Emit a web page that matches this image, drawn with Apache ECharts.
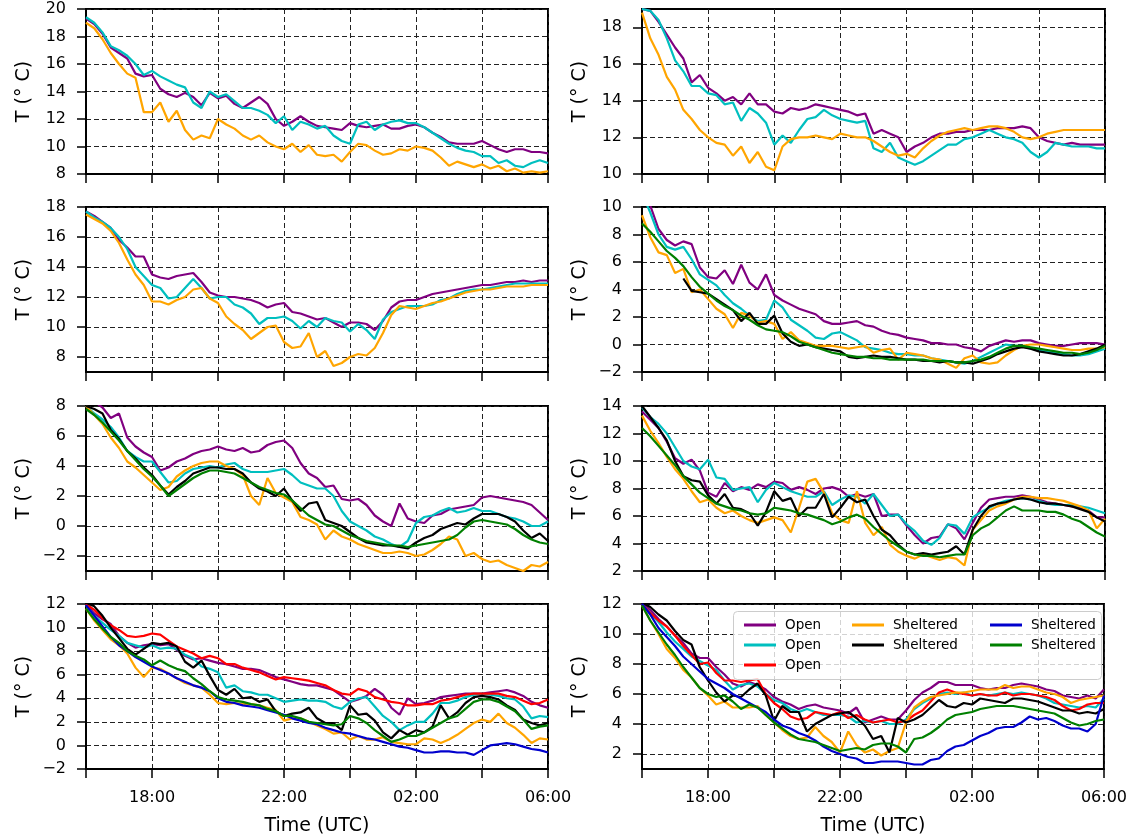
<!DOCTYPE html>
<html>
<head>
<meta charset="utf-8">
<title>Night-time air temperature, open and sheltered sites</title>
<script src="https://cdn.jsdelivr.net/npm/echarts@6/dist/echarts.min.js"></script>
<style>
  html, body { margin: 0; padding: 0; background: #fff; }
  #chart { width: 1130px; height: 838px; }
</style>
</head>
<body>
<div id="chart"></div>
<script>
// sample times, hours after midnight of the first day (26 = 02:00, 30 = 06:00)
const hours = [16, 16.25, 16.5, 16.75, 17, 17.25, 17.5, 17.75, 18, 18.25, 18.5, 18.75,
  19, 19.25, 19.5, 19.75, 20, 20.25, 20.5, 20.75, 21, 21.25, 21.5, 21.75,
  22, 22.25, 22.5, 22.75, 23, 23.25, 23.5, 23.75, 24, 24.25, 24.5, 24.75,
  25, 25.25, 25.5, 25.75, 26, 26.25, 26.5, 26.75, 27, 27.25, 27.5, 27.75,
  28, 28.25, 28.5, 28.75, 29, 29.25, 29.5, 29.75, 30];

const xTickHours = [18, 22, 26, 30];
const xTickText = ['18:00', '22:00', '02:00', '06:00'];

// y tick values per panel
const p1Ticks = [8, 10, 12, 14, 16, 18, 20];
const p2Ticks = [10, 12, 14, 16, 18];
const p3Ticks = [8, 10, 12, 14, 16, 18];
const p4Ticks = [-2, 0, 2, 4, 6, 8, 10];
const p5Ticks = [-2, 0, 2, 4, 6, 8];
const p6Ticks = [2, 4, 6, 8, 10, 12, 14];
const p7Ticks = [-2, 0, 2, 4, 6, 8, 10, 12];
const p8Ticks = [2, 4, 6, 8, 10, 12];

// panel 1 (top left)
const p1Purple = [19.3,18.9,18.2,17.2, 16.8,16.4,15.3,15.1, 15.2,14.2,13.8,13.6, 13.9,13.6,13.0,13.9, 13.5,13.7,13.1,12.8, 13.2,13.6,13.1,12.0, 11.5,11.8,12.2,11.8, 11.5,11.4,11.3,11.2, 11.7,11.5,11.4,11.5, 11.6,11.3,11.3,11.5, 11.6,11.4,11.0,10.7, 10.3,10.2,10.2,10.2, 10.4,10.1,9.8,9.6, 9.8,9.8,9.6,9.6, 9.5];
const p1Cyan = [19.4,19.0,18.3,17.3, 17.0,16.6,16.0,15.2, 15.5,15.1,14.8,14.5, 14.3,13.2,12.8,14.0, 13.6,13.8,13.3,12.8, 12.8,12.6,12.3,11.7, 12.2,11.2,11.8,11.6, 11.3,11.5,10.8,10.4, 10.2,11.6,11.8,11.2, 11.6,11.8,11.9,11.7, 11.7,11.4,11.0,10.6, 10.2,9.9,9.7,9.6, 9.3,9.3,8.8,9.0, 8.6,8.5,8.8,9.0, 8.8];
const p1Orange = [19.0,18.6,17.8,16.8, 16.0,15.3,15.0,12.5, 12.5,13.2,11.8,12.6, 11.2,10.5,10.8,10.6, 12.0,11.6,11.3,10.8, 10.5,10.8,10.3,10.0, 9.8,10.2,9.6,10.1, 9.4,9.3,9.4,8.9, 9.6,10.2,10.1,9.7, 9.4,9.5,9.8,9.7, 10.0,9.9,9.7,9.2, 8.6,8.9,8.7,8.5, 8.7,8.4,8.6,8.2, 8.4,8.1,8.2,8.1, 8.2];

// panel 2 (top right)
const p2Purple = [19.0,18.9,18.3,17.6, 16.9,16.3,15.0,15.4, 14.7,14.4,14.0,14.2, 13.8,14.4,13.8,13.8, 13.4,13.3,13.6,13.5, 13.6,13.8,13.7,13.6, 13.5,13.4,13.2,13.3, 12.2,12.4,12.2,12.0, 11.2,11.5,11.7,12.0, 12.2,12.2,12.3,12.3, 12.4,12.4,12.4,12.5, 12.5,12.5,12.6,12.5, 12.0,11.8,11.7,11.6, 11.7,11.6,11.6,11.6, 11.6];
const p2Cyan = [19.0,18.9,18.4,17.4, 16.2,15.6,14.8,14.8, 14.4,14.3,13.8,13.9, 12.9,13.6,13.3,12.8, 11.6,12.1,11.7,12.4, 13.0,13.1,13.5,13.2, 13.0,12.9,12.8,12.9, 11.4,11.2,11.7,10.9, 10.7,10.5,10.7,11.0, 11.3,11.6,11.6,11.9, 12.0,12.2,12.4,12.2, 12.0,11.9,11.7,11.2, 10.9,11.2,11.7,11.6, 11.5,11.5,11.5,11.4, 11.4];
const p2Orange = [18.8,17.4,16.5,15.3, 14.6,13.5,13.0,12.4, 12.0,11.7,11.6,11.0, 11.5,10.6,11.2,10.4, 10.2,11.5,11.9,12.0, 12.0,12.1,12.0,11.9, 12.2,12.1,12.0,12.0, 11.8,11.5,11.2,11.0, 11.1,10.9,11.4,11.8, 12.1,12.3,12.4,12.5, 12.4,12.5,12.6,12.6, 12.5,12.3,12.0,11.9, 12.0,12.2,12.3,12.4, 12.4,12.4,12.4,12.4, 12.4];

// panel 3
const p3Purple = [17.7,17.4,17.0,16.6, 15.8,15.3,14.7,14.7, 13.5,13.3,13.2,13.4, 13.5,13.6,13.0,12.3, 12.1,12.0,12.0,11.9, 11.8,11.6,11.3,11.5, 11.6,11.0,10.9,10.7, 10.5,10.6,10.3,10.0, 10.3,10.3,10.2,9.8, 10.4,11.3,11.7,11.8, 11.8,12.0,12.2,12.3, 12.4,12.5,12.6,12.7, 12.8,12.8,12.9,13.0, 13.0,13.1,13.0,13.1, 13.1];
const p3Cyan = [17.7,17.3,17.0,16.6, 16.0,15.2,14.0,13.4, 12.8,12.6,11.9,12.0, 12.6,13.2,12.6,11.9, 12.0,12.0,11.5,11.3, 10.9,10.2,10.6,10.6, 10.7,10.4,9.9,10.4, 10.0,10.6,10.4,10.3, 9.7,10.2,9.8,9.2, 10.5,11.0,11.2,11.4, 11.4,11.4,11.5,11.8, 11.9,12.2,12.4,12.5, 12.5,12.6,12.7,12.8, 12.9,12.9,12.9,12.9, 12.9];
const p3Orange = [17.5,17.2,16.9,16.4, 15.6,14.5,13.5,12.8, 11.7,11.7,11.5,11.8, 12.0,12.5,12.6,11.9, 11.6,10.7,10.2,9.8, 9.2,9.6,10.0,10.1, 9.0,8.6,8.7,9.6, 8.0,8.4,7.4,7.6, 8.0,8.2,8.1,8.6, 9.6,10.8,11.4,11.3, 11.2,11.4,11.6,11.7, 11.9,12.1,12.3,12.4, 12.5,12.5,12.6,12.7, 12.7,12.7,12.8,12.8, 12.8];

// panel 4
const p4Purple = [11.0,10.1,8.4,7.6, 7.2,7.5,7.3,5.6, 4.9,4.8,5.4,4.4, 5.8,4.5,4.0,5.1, 3.6,3.2,2.9,2.6, 2.4,2.2,1.7,1.5, 1.5,1.6,1.7,1.4, 1.3,1.0,0.8,0.7, 0.5,0.4,0.3,0.1, 0.1,0.0,0.0,-0.2, -0.3,-0.5,-0.1,0.1, 0.3,0.2,0.3,0.3, 0.1,0.0,-0.1,-0.1, 0.0,0.1,0.1,0.1, 0.0];
const p4Cyan = [11.0,9.6,8.0,7.1, 6.9,7.1,6.2,5.1, 4.7,4.3,3.6,3.0, 2.6,2.1,1.7,1.8, 3.2,2.7,1.8,1.4, 1.0,0.5,0.4,0.8, 0.9,0.6,0.3,-0.2, -0.3,-0.4,-0.6,-0.7, -0.7,-0.8,-0.8,-1.0, -1.1,-1.2,-1.3,-1.4, -1.2,-0.9,-0.6,-0.3, 0.0,-0.1,-0.1,-0.3, -0.4,-0.5,-0.6,-0.7, -0.8,-0.8,-0.7,-0.5, -0.3];
const p4Orange = [9.4,7.8,6.7,6.5, 5.2,5.5,3.8,4.0, 3.3,2.6,2.2,1.2, 2.3,2.1,1.6,1.7, 1.5,0.4,0.9,0.3, 0.1,-0.1,-0.1,-0.1, -0.2,-0.3,-0.2,-0.1, -0.6,-0.4,-0.3,-1.1, -0.6,-0.7,-0.8,-1.0, -1.1,-1.4,-1.7,-1.0, -0.8,-1.3,-1.4,-1.3, -0.8,-0.4,-0.1,0.0, 0.0,-0.1,-0.2,-0.3, -0.4,-0.4,-0.3,-0.3, -0.2];
const p4Black = [null,null,null,null, null,4.8,3.9,3.8, 3.7,3.3,2.9,2.5, 1.7,2.3,1.5,1.5, 2.1,0.8,0.2,-0.1, 0.0,-0.2,-0.3,-0.4, -0.5,-0.9,-1.0,-0.9, -0.8,-0.9,-0.9,-1.0, -1.1,-1.1,-1.2,-1.2, -1.3,-1.2,-1.3,-1.3, -1.4,-1.2,-1.0,-0.7, -0.5,-0.3,-0.2,-0.3, -0.5,-0.6,-0.7,-0.8, -0.8,-0.7,-0.5,-0.3, 0.0];
const p4Green = [8.8,8.2,7.5,6.8, 6.3,5.7,4.9,4.2, 3.7,3.2,2.8,2.5, 2.1,1.8,1.4,1.1, 1.0,0.9,0.6,0.2, 0.0,-0.2,-0.4,-0.6, -0.7,-0.8,-0.9,-0.9, -1.0,-1.0,-1.1,-1.1, -1.1,-1.1,-1.1,-1.2, -1.2,-1.2,-1.3,-1.3, -1.2,-1.1,-0.9,-0.6, -0.3,-0.1,-0.1,-0.2, -0.3,-0.4,-0.5,-0.6, -0.6,-0.7,-0.6,-0.4, -0.1];

// panel 5
const p5Purple = [8.5,8.3,7.9,7.2, 7.5,5.9,5.3,4.9, 4.6,3.7,3.9,4.3, 4.5,4.8,5.0,5.1, 5.3,5.1,5.0,5.2, 4.9,5.0,5.4,5.6, 5.7,5.2,4.2,3.5, 3.2,2.6,2.7,1.8, 1.7,1.8,1.4,0.7, 0.3,0.0,1.5,0.5, 0.3,0.2,0.7,0.8, 1.1,1.2,1.3,1.4, 1.9,2.0,1.9,1.8, 1.7,1.6,1.4,0.9, 0.4];
const p5Cyan = [8.0,7.5,7.1,6.6, 5.9,5.0,4.6,4.3, 4.3,3.6,2.9,3.0, 3.5,3.8,3.9,4.0, 3.9,4.1,4.2,3.8, 3.6,3.6,3.6,3.7, 3.8,3.4,2.9,2.7, 2.5,2.5,2.0,1.0, 0.3,0.0,-0.3,-0.7, -0.9,-1.2,-1.4,-1.0, 0.2,0.6,0.7,1.0, 1.2,0.9,1.0,1.2, 1.0,1.0,0.8,0.6, 0.5,0.3,0.0,0.0, 0.3];
const p5Orange = [8.0,7.4,6.8,5.9, 5.2,4.3,3.9,3.4, 2.9,2.4,2.6,3.3, 3.7,4.0,4.2,4.3, 4.3,4.0,3.8,3.4, 2.0,1.4,3.2,2.2, 1.9,1.6,0.6,0.4, 0.1,-0.9,-0.3,-0.7, -0.9,-1.2,-1.4,-1.6, -1.8,-1.8,-1.7,-1.8, -2.0,-1.9,-1.6,-1.2, -0.7,-0.9,-2.0,-1.8, -2.2,-2.4,-2.3,-2.6, -2.8,-3.0,-2.6,-2.7, -2.4];
const p5Black = [8.0,7.8,7.5,6.4, 5.8,5.0,4.5,3.9, 3.4,2.7,2.1,2.6, 3.0,3.5,3.7,3.9, 3.9,3.8,3.8,3.5, 2.9,2.5,2.3,2.0, 2.5,1.7,1.0,1.5, 1.6,0.4,0.2,0.0, -0.4,-0.8,-1.1,-1.2, -1.3,-1.3,-1.4,-1.5, -1.1,-0.8,-0.6,-0.2, 0.0,0.2,0.1,0.5, 0.8,0.8,0.8,0.6, 0.3,-0.3,-0.8,-0.5, -1.0];
const p5Green = [7.8,7.4,6.9,6.3, 5.7,5.0,4.4,3.8, 3.3,2.7,2.0,2.4, 2.8,3.2,3.5,3.7, 3.7,3.6,3.5,3.2, 2.9,2.6,2.4,2.2, 2.1,1.7,1.2,0.7, 0.4,0.1,0.0,-0.3, -0.6,-0.8,-1.0,-1.1, -1.2,-1.3,-1.3,-1.4, -1.3,-1.2,-1.1,-1.0, -0.9,-0.6,-0.1,0.3, 0.4,0.3,0.2,0.1, -0.2,-0.6,-0.9,-1.1, -1.2];

// panel 6
const p6Purple = [13.6,13.0,12.4,11.4, 10.2,9.8,10.1,9.3, 7.7,7.4,8.4,7.8, 8.1,7.9,8.3,8.1, 8.5,8.4,7.9,8.1, 7.9,7.6,8.0,8.1, 7.9,7.4,7.6,7.4, 7.6,6.0,6.1,6.1, 5.3,4.6,4.0,4.4, 4.5,5.4,5.1,4.3, 5.5,6.6,7.2,7.3, 7.4,7.4,7.5,7.4, 7.2,7.0,6.9,6.8, 6.7,6.6,6.4,5.9, 5.9];
const p6Cyan = [13.9,13.2,12.7,12.0, 11.0,10.0,9.6,9.4, 10.1,8.8,8.7,7.9, 8.0,8.1,7.0,7.9, 8.4,8.1,7.8,7.6, 7.4,7.4,7.8,6.8, 7.2,7.5,7.4,6.9, 7.6,6.8,6.0,6.1, 5.4,4.9,4.2,3.9, 4.4,5.4,5.3,4.7, 5.9,6.3,6.6,6.9, 7.1,7.2,7.3,7.2, 7.1,6.9,6.8,6.8, 6.8,6.7,6.6,6.4, 6.2];
const p6Orange = [13.3,12.2,11.3,10.3, 9.4,8.7,7.8,7.0, 7.2,6.6,6.2,6.4, 6.0,5.7,5.5,5.7, 5.9,5.7,4.8,6.6, 8.5,8.7,7.7,6.2, 5.7,5.5,7.8,5.5, 4.6,5.2,3.9,3.4, 3.1,2.9,3.2,3.0, 2.8,3.0,2.9,2.4, 5.0,5.7,6.4,6.7, 6.9,7.2,7.4,7.4, 7.3,7.3,7.2,7.1, 6.9,6.7,6.4,5.1, 5.8];
const p6Black = [14.0,13.2,12.4,11.5, 10.0,8.9,8.6,8.5, 7.5,6.9,7.6,6.6, 6.5,6.2,5.3,6.3, 7.8,7.1,7.3,6.0, 6.6,6.6,7.6,5.9, 6.6,7.4,7.0,7.2, 6.0,5.0,4.6,3.9, 3.4,3.2,3.3,3.2, 3.3,3.4,3.8,3.2, 5.0,6.0,6.7,6.9, 7.0,7.2,7.3,7.2, 7.0,6.9,6.9,6.8, 6.7,6.5,6.3,5.9, 5.6];
const p6Green = [12.4,11.8,11.1,10.4, 9.7,8.9,8.3,7.7, 7.3,6.9,6.7,6.5, 6.4,6.2,6.1,6.2, 6.6,6.5,6.4,6.2, 6.1,5.9,5.7,5.4, 5.6,5.9,6.1,5.8, 5.2,4.7,4.2,3.8, 3.4,3.2,3.1,3.1, 3.0,3.1,3.2,3.2, 4.6,5.1,5.4,5.9, 6.4,6.7,6.4,6.4, 6.4,6.3,6.3,6.1, 5.8,5.6,5.2,4.8, 4.5];

// panel 7
const p7Purple = [12.0,11.2,10.7,10.3, 9.3,8.7,8.3,8.5, 8.6,8.5,8.6,8.1, 7.6,7.3,7.4,7.2, 7.0,6.9,6.7,6.5, 6.5,6.4,6.1,5.8, 5.6,5.4,5.2,5.1, 5.1,4.9,4.7,4.2, 3.7,3.9,4.2,4.8, 4.3,3.2,2.6,4.0, 3.5,3.6,3.8,4.1, 4.2,4.3,4.4,4.4, 4.4,4.5,4.6,4.7, 4.5,4.2,3.7,3.4, 3.2];
const p7Cyan = [11.9,11.0,10.4,9.8, 9.3,8.7,8.5,8.3, 8.5,8.2,8.3,8.2, 7.7,7.4,6.7,6.5, 6.2,4.9,5.1,4.6, 4.5,4.3,4.3,4.0, 3.7,3.8,3.9,3.8, 3.8,3.7,3.3,3.1, 3.7,4.0,4.1,3.3, 2.5,2.0,1.3,1.7, 2.0,2.0,2.7,3.6, 3.6,3.8,4.1,4.3, 4.4,4.3,4.2,4.0, 3.9,3.3,2.3,2.5, 2.4];
const p7Red = [12.0,11.5,10.8,10.2, 9.8,9.3,9.2,9.3, 9.5,9.4,8.9,8.4, 8.1,7.8,7.4,7.6, 7.4,6.9,6.9,6.6, 6.4,6.2,5.9,5.6, 5.8,5.7,5.6,5.5, 5.3,5.1,4.7,4.4, 4.3,4.8,4.6,4.1, 3.9,3.7,3.6,3.4, 3.4,3.5,3.5,3.8, 3.9,4.1,4.3,4.4, 4.4,4.4,4.4,4.2, 4.1,3.8,3.5,3.6, 3.9];
const p7Orange = [11.6,10.6,9.8,9.0, 8.5,7.8,6.6,5.8, 6.6,6.5,6.1,5.7, 5.3,5.1,4.9,4.3, 3.6,3.5,3.6,3.5, 3.5,3.4,3.2,3.0, 2.1,2.3,2.3,2.0, 1.7,1.4,1.0,1.1, 0.5,0.8,0.5,0.5, 0.7,0.3,0.2,0.1, 0.1,0.6,0.5,0.2, 0.5,0.9,1.4,1.9, 2.2,2.0,2.7,1.9, 1.5,0.9,0.2,0.6, 0.5];
const p7Black = [12.1,11.8,11.0,10.0, 9.1,8.2,7.7,8.2, 8.7,8.6,8.7,8.4, 7.1,6.6,7.2,5.9, 4.7,4.3,4.8,4.0, 4.1,3.7,3.9,2.9, 2.5,2.7,2.8,3.2, 2.3,1.9,1.9,1.3, 3.4,2.6,2.7,2.1, 1.1,0.6,1.3,0.9, 1.3,1.1,1.6,3.4, 2.3,2.8,3.6,4.1, 4.2,4.1,3.9,3.4, 3.0,2.2,1.9,1.7, 1.9];
const p7Blue = [11.9,11.0,10.1,9.2, 8.5,8.0,7.5,7.1, 6.7,6.4,6.1,5.7, 5.4,5.1,4.9,4.6, 4.0,3.7,3.6,3.4, 3.3,3.2,3.0,2.8, 2.6,2.3,2.1,1.9, 1.8,1.5,1.3,1.1, 1.0,0.8,0.6,0.5, 0.3,0.1,-0.1,-0.2, -0.4,-0.6,-0.6,-0.5, -0.5,-0.6,-0.6,-0.8, -0.4,0.0,0.1,0.2, 0.1,-0.1,-0.3,-0.4, -0.6];
const p7Green = [11.6,10.7,9.9,9.2, 8.7,8.0,7.6,7.3, 6.8,7.2,6.8,6.5, 6.3,5.7,5.2,4.6, 4.1,3.9,3.8,3.7, 3.5,3.4,3.1,2.9, 2.5,2.5,2.3,2.0, 1.9,1.8,1.7,1.8, 2.5,2.3,1.9,1.3, 0.8,0.3,0.5,0.8, 0.8,1.1,1.5,1.9, 2.3,2.5,3.1,3.7, 3.9,3.9,3.7,3.3, 2.9,2.2,1.4,1.6, 1.7];

// panel 8 (bottom right, carries the legend)
const p8Purple = [12.1,11.6,11.0,10.5, 9.9,9.4,8.7,8.4, 8.4,7.8,7.3,6.7, 6.5,6.8,6.6,6.3, 5.8,5.5,5.3,5.0, 5.2,5.3,5.1,5.0, 4.9,4.7,5.1,4.1, 4.3,4.5,4.3,4.3, 4.9,5.6,6.1,6.4, 6.8,6.8,6.6,6.6, 6.6,6.4,6.3,6.4, 6.4,6.6,6.7,6.6, 6.5,6.3,6.2,5.9, 5.8,5.7,5.9,5.7, 6.3];
const p8Cyan = [12.0,11.4,10.8,10.1, 9.5,9.0,8.5,8.2, 7.9,7.6,6.9,6.3, 6.6,6.7,6.5,6.0, 5.6,5.4,5.0,4.8, 5.0,4.8,4.6,4.6, 4.6,4.5,4.1,4.2, 4.1,4.2,4.0,4.0, 4.3,5.0,5.4,5.7, 6.0,6.1,6.0,6.1, 5.9,6.0,5.9,6.0, 6.1,6.0,6.1,6.0, 5.9,5.7,5.4,5.3, 5.2,5.1,5.2,5.1, 5.7];
const p8Red = [12.0,11.4,10.9,10.5, 9.9,9.2,8.6,8.0, 8.1,7.4,6.9,6.9, 6.8,6.9,7.0,6.0, 5.4,5.0,4.5,4.3, 4.4,4.8,4.7,4.6, 4.8,4.4,4.6,4.3, 4.1,4.2,4.3,4.1, 4.2,4.6,4.9,5.5, 6.1,6.3,6.1,6.0, 5.9,6.0,5.9,5.9, 6.1,5.9,6.0,6.0, 5.9,5.8,5.6,5.2, 4.9,5.0,5.3,5.4, 5.4];
const p8Orange = [11.9,10.9,10.0,9.0, 8.4,7.6,7.1,6.4, 5.9,5.3,5.5,5.1, 5.1,5.1,5.2,4.6, 4.1,3.6,3.2,3.0, 3.1,3.8,3.2,2.8, 2.1,3.5,2.6,2.1, 2.3,1.9,2.2,2.4, 4.1,5.1,5.5,5.8, 5.9,6.0,6.1,6.1, 6.2,6.3,6.3,6.3, 6.6,6.4,6.5,6.5, 6.3,6.1,6.0,5.8, 5.4,5.6,5.7,5.8, 5.9];
const p8Black = [12.1,11.8,11.3,10.9, 10.2,9.6,9.3,7.8, 6.9,6.1,5.5,5.9, 5.8,6.3,6.7,5.9, 4.2,5.2,4.8,4.8, 3.5,4.0,4.3,4.6, 4.7,4.8,4.4,3.9, 3.0,3.2,2.1,4.4, 4.1,4.3,4.6,5.1, 5.6,5.2,5.1,5.4, 5.3,5.7,5.6,5.5, 5.4,5.7,5.7,5.6, 5.5,5.3,5.1,4.9, 4.9,4.7,4.8,4.7, 5.0];
const p8Blue = [12.0,11.3,10.4,9.8, 9.2,8.5,8.0,7.5, 7.0,6.7,6.4,6.0, 5.7,5.4,5.1,4.8, 4.3,3.9,3.7,3.4, 3.2,2.9,2.5,2.2, 2.0,1.8,1.7,1.4, 1.4,1.5,1.5,1.5, 1.4,1.3,1.3,1.6, 1.7,2.2,2.5,2.6, 2.9,3.2,3.4,3.7, 3.8,3.8,4.1,4.5, 4.3,4.4,4.2,3.9, 3.7,3.7,3.5,4.0, 5.9];
const p8Green = [11.9,10.9,10.1,9.3, 8.6,7.8,7.1,6.4, 6.0,5.8,5.9,5.5, 5.0,5.3,5.1,4.6, 4.1,3.7,3.3,3.0, 2.9,2.8,2.6,2.4, 2.2,2.3,2.4,2.3, 2.6,2.7,2.7,2.5, 2.1,3.0,3.1,3.4, 3.8,4.3,4.6,4.7, 4.8,5.0,5.1,5.2, 5.2,5.2,5.1,5.0, 4.9,4.8,4.7,4.4, 4.1,3.9,4.0,4.2, 4.3];

const lineColors = {
  'Open A': '#800080',
  'Open B': '#00bfbf',
  'Open C': '#ff0000',
  'Sheltered A': '#ffa500',
  'Sheltered B': '#000000',
  'Sheltered C': '#0000cd',
  'Sheltered D': '#008000'
};

const panels = [
  { min: 8, max: 20, ticks: p1Ticks, lines: [['Open A', p1Purple], ['Open B', p1Cyan], ['Sheltered A', p1Orange]] },
  { min: 10, max: 19, ticks: p2Ticks, lines: [['Open A', p2Purple], ['Open B', p2Cyan], ['Sheltered A', p2Orange]] },
  { min: 7, max: 18, ticks: p3Ticks, lines: [['Open A', p3Purple], ['Open B', p3Cyan], ['Sheltered A', p3Orange]] },
  { min: -2, max: 10, ticks: p4Ticks, lines: [['Open A', p4Purple], ['Open B', p4Cyan], ['Sheltered A', p4Orange], ['Sheltered B', p4Black], ['Sheltered D', p4Green]] },
  { min: -3, max: 8, ticks: p5Ticks, lines: [['Open A', p5Purple], ['Open B', p5Cyan], ['Sheltered A', p5Orange], ['Sheltered B', p5Black], ['Sheltered D', p5Green]] },
  { min: 2, max: 14, ticks: p6Ticks, lines: [['Open A', p6Purple], ['Open B', p6Cyan], ['Sheltered A', p6Orange], ['Sheltered B', p6Black], ['Sheltered D', p6Green]] },
  { min: -2, max: 12, ticks: p7Ticks, lines: [['Open A', p7Purple], ['Open B', p7Cyan], ['Open C', p7Red], ['Sheltered A', p7Orange], ['Sheltered B', p7Black], ['Sheltered C', p7Blue], ['Sheltered D', p7Green]] },
  { min: 1, max: 12, ticks: p8Ticks, lines: [['Open A', p8Purple], ['Open B', p8Cyan], ['Open C', p8Red], ['Sheltered A', p8Orange], ['Sheltered B', p8Black], ['Sheltered C', p8Blue], ['Sheltered D', p8Green]] }
];

const colLeft = [86, 642];
const colWidth = [462, 463];
const rowTop = [9, 207, 406, 604];
const panelHeight = 165;

const fmtNum = v => (v < 0 ? '\u2212' + Math.abs(v) : String(v));
const gridLine = { show: true, lineStyle: { color: '#222', width: 1, type: [5, 3] } };

const grids = [];
const xAxes = [];
const yAxes = [];
const series = [];

panels.forEach((p, i) => {
  const col = i % 2;
  const row = Math.floor(i / 2);
  const bottomRow = row === 3;

  grids.push({
    left: colLeft[col], top: rowTop[row], width: colWidth[col], height: panelHeight,
    show: true, borderColor: '#000', borderWidth: 2, backgroundColor: 'transparent'
  });

  xAxes.push({
    type: 'value', gridIndex: i, min: 16, max: 30, interval: 2,
    axisLine: { show: true, onZero: false, lineStyle: { color: '#000', width: 2 } },
    axisTick: { show: true, length: 9, lineStyle: { color: '#000', width: 1.5 } },
    axisLabel: {
      show: bottomRow, color: '#000', fontSize: 16, margin: 21,
      formatter: v => { const k = xTickHours.indexOf(v); return k >= 0 ? xTickText[k] : ''; }
    },
    splitLine: gridLine,
    name: bottomRow ? 'Time (UTC)' : '',
    nameLocation: 'middle', nameGap: 48,
    nameTextStyle: { color: '#000', fontSize: 19 }
  });

  yAxes.push({
    type: 'value', gridIndex: i, min: p.min, max: p.max,
    axisLine: { show: true, onZero: false, lineStyle: { color: '#000', width: 2 } },
    axisTick: { show: true, length: 9, customValues: p.ticks, lineStyle: { color: '#000', width: 1.5 } },
    axisLabel: { color: '#000', fontSize: 16, margin: 20, customValues: p.ticks, formatter: fmtNum },
    splitLine: gridLine,
    name: 'T (° C)', nameLocation: 'middle', nameGap: 52,
    nameTextStyle: { color: '#000', fontSize: 19 }
  });

  p.lines.forEach(([name, values]) => {
    series.push({
      name: name, type: 'line', xAxisIndex: i, yAxisIndex: i,
      data: hours.map((h, k) => [h, values[k]]),
      showSymbol: false, connectNulls: false, clip: true,
      lineStyle: { color: lineColors[name], width: 2.2 },
      itemStyle: { color: lineColors[name] }
    });
  });
});

function legendColumn(left, names) {
  return {
    left: left, top: 613, orient: 'vertical', z: 20,
    itemWidth: 32, itemHeight: 3, itemGap: 6, icon: 'rect',
    selectedMode: false, data: names,
    formatter: n => n.split(' ')[0],
    textStyle: { color: '#000', fontSize: 13.5, padding: [0, 0, 0, 4] }
  };
}

const chart = echarts.init(document.getElementById('chart'));
chart.setOption({
  animation: false,
  textStyle: { fontFamily: 'DejaVu Sans' },
  grid: grids,
  xAxis: xAxes,
  yAxis: yAxes,
  legend: [
    legendColumn(739, ['Open A', 'Open B', 'Open C']),
    legendColumn(847, ['Sheltered A', 'Sheltered B']),
    legendColumn(985, ['Sheltered C', 'Sheltered D'])
  ],
  graphic: [{
    type: 'rect', left: 733, top: 611, z: 15,
    shape: { width: 368, height: 68, r: 4 },
    style: { fill: 'rgba(255,255,255,0.8)', stroke: '#cccccc', lineWidth: 1 }
  }],
  series: series
});
</script>
</body>
</html>
